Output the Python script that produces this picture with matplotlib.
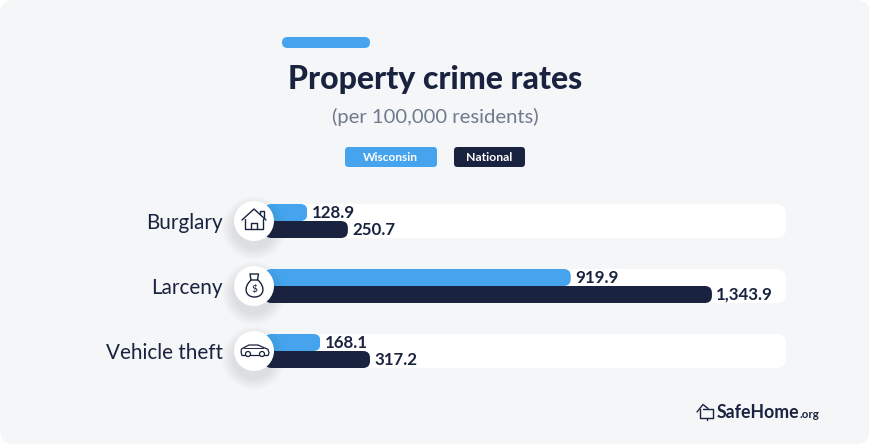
import matplotlib
matplotlib.use("Agg")
import matplotlib.pyplot as plt
from matplotlib.patches import FancyBboxPatch, Circle
from matplotlib.path import Path
from matplotlib.patches import PathPatch

categories = ["Burglary", "Larceny", "Vehicle theft"]
wisconsin = [128.9, 919.9, 168.1]
national = [250.7, 1343.9, 317.2]
series_names = ["Wisconsin", "National"]
title = "Property crime rates"
subtitle = "(per 100,000 residents)"

BLUE = "#46A4EE"
NAVY = "#19233F"
BG = "#F5F6F8"
W, H = 870, 444
FONT = "Lato"
plt.rcParams["font.family"] = [FONT, "DejaVu Sans"]

fig = plt.figure(figsize=(8.7, 4.44), dpi=100, facecolor="white")

def px_axes(z):
    a = fig.add_axes([0, 0, 1, 1], zorder=z)
    a.set_xlim(0, W)
    a.set_ylim(H, 0)
    a.axis("off")
    a.patch.set_alpha(0)
    return a

def rbox(a, x0, y0, x1, y1, r, **kw):
    p = FancyBboxPatch((x0, y0), x1 - x0, y1 - y0,
                       boxstyle=f"round,pad=0,rounding_size={r}", linewidth=0, **kw)
    a.add_patch(p)
    return p

bg = px_axes(0)
rbox(bg, 0, 0, W, H, 14, facecolor=BG)
rbox(bg, 282, 37, 370, 48, 5.5, facecolor=BLUE)
bg.text(435, 80, title, ha="center", va="center", fontsize=23, fontweight="black", color=NAVY)
bg.text(435, 117, subtitle, ha="center", va="center", fontsize=14.6, color="#6F7A8E")
rbox(bg, 345, 147, 437, 167, 3.5, facecolor=BLUE)
rbox(bg, 454, 147, 525, 167, 3.5, facecolor=NAVY)
bg.text(390.5, 157, series_names[0], ha="center", va="center", fontsize=8.6, fontweight="bold", color="white")
bg.text(489.5, 157, series_names[1], ha="center", va="center", fontsize=8.8, fontweight="bold", color="white")
for cy in (221, 286, 351):
    rbox(bg, 250, cy - 17, 786, cy + 17, 10, facecolor="white")

# data axes: 0.333 px per unit, zero at x=264.4; rows 65 px apart, centred at y=221
PX_PER_UNIT = 0.333
ROW = 65.0
x_left, x_right = 264.4, 786
ax = fig.add_axes([x_left / W, 0, (x_right - x_left) / W, 1], zorder=1)
ax.patch.set_alpha(0)
ax.set_xlim(0, (x_right - x_left) / PX_PER_UNIT)
ax.set_ylim((H - 221) / ROW, -221 / ROW)
for s in ax.spines.values():
    s.set_visible(False)
ax.set_xticks([])
ax.set_yticks(range(len(categories)))
ax.set_yticklabels(categories, fontsize=14.9, color=NAVY)
ax.tick_params(axis="y", length=0, pad=(x_left - 223) * 0.72)

bar_h = 17 / ROW
ypos = list(range(len(categories)))
for vals, color, off in ((wisconsin, BLUE, -bar_h / 2), (national, NAVY, bar_h / 2)):
    bars = ax.barh([y + off for y in ypos], vals, height=bar_h, color=color, linewidth=0)
    for b, v, y in zip(bars, vals, ypos):
        r = 7.0
        clip = FancyBboxPatch((b.get_x(), b.get_y()), b.get_width(), b.get_height(),
                              boxstyle=f"round,pad=0,rounding_size={r / PX_PER_UNIT}",
                              mutation_aspect=(1 / ROW) / (1 / PX_PER_UNIT),
                              transform=ax.transData, linewidth=0, facecolor="none")
        b.set_clip_path(clip.get_path(), clip.get_transform())
        ax.annotate(f"{v:,.1f}", (v, y + off), xytext=(3.0, 0.0), textcoords="offset points",
                    va="center", ha="left", fontsize=12.2, fontweight="bold", color=NAVY,
                    annotation_clip=False)

ov = px_axes(2)
LW = 1.0
for cy in (221, 286, 351):
    for i in range(12):
        ov.add_patch(Circle((254, cy + 7), 32 - i, facecolor="#3A4666", alpha=0.008, linewidth=0))
    ov.add_patch(Circle((254, cy), 20, facecolor="white", linewidth=0))

def line(a, pts, close=False, lw=LW, c=NAVY):
    xs = [p[0] for p in pts]
    ys = [p[1] for p in pts]
    if close:
        xs.append(xs[0])
        ys.append(ys[0])
    a.plot(xs, ys, color=c, lw=lw, solid_capstyle="round", solid_joinstyle="round")

# house icon
line(ov, [(242, 220), (254, 209), (266, 220)])
line(ov, [(245, 219), (245, 229), (263, 229), (263, 219)])
line(ov, [(251, 229), (251, 223), (257, 223), (257, 229)])
line(ov, [(260, 214), (260, 211), (264, 211), (264, 218)])

# money bag icon
bag = Path([(251.2, 280), (243, 287), (245, 297), (254.5, 297), (264, 297), (266, 287), (257.8, 280), (251.2, 280)],
           [Path.MOVETO, Path.CURVE4, Path.CURVE4, Path.CURVE4, Path.CURVE4, Path.CURVE4, Path.CURVE4, Path.CLOSEPOLY])
ov.add_patch(PathPatch(bag, facecolor="none", edgecolor=NAVY, lw=LW))
line(ov, [(251, 280), (250, 274), (258.5, 274), (257.5, 280)])
ov.text(254.5, 289, "$", ha="center", va="center", fontsize=7.5, color=NAVY)

# car icon
car = Path([(241, 352), (241.5, 349), (244.5, 347.3), (249, 345), (258, 345), (263, 347.3), (268, 349.3),
            (269, 353), (268, 355.5), (242, 355.5), (241, 352)],
           [Path.MOVETO] + [Path.LINETO] * 10)
ov.add_patch(PathPatch(car, facecolor="white", edgecolor=NAVY, lw=0.9, joinstyle="round"))
line(ov, [(244.5, 347.5), (263, 347.5)], lw=0.7)
for cx in (248, 262):
    ov.add_patch(Circle((cx, 354), 2.5, facecolor="white", edgecolor=NAVY, lw=0.9))

# logo
line(ov, [(697, 412), (703, 404.5), (708, 408.5)], lw=1.0)
line(ov, [(700, 409), (700, 417.5), (713, 417.5), (713, 409), (703, 409)], lw=1.0)
line(ov, [(707, 417.5), (707, 419.5)], lw=1.0)
ov.text(716.5, 418.3, "SafeHome", ha="left", va="baseline", fontsize=12.8, fontweight="bold", color=NAVY)
ov.text(799.5, 418.3, ".org", ha="left", va="baseline", fontsize=8.3, fontweight="bold", color=NAVY)

fig.savefig("out.png", dpi=100, facecolor="white")
